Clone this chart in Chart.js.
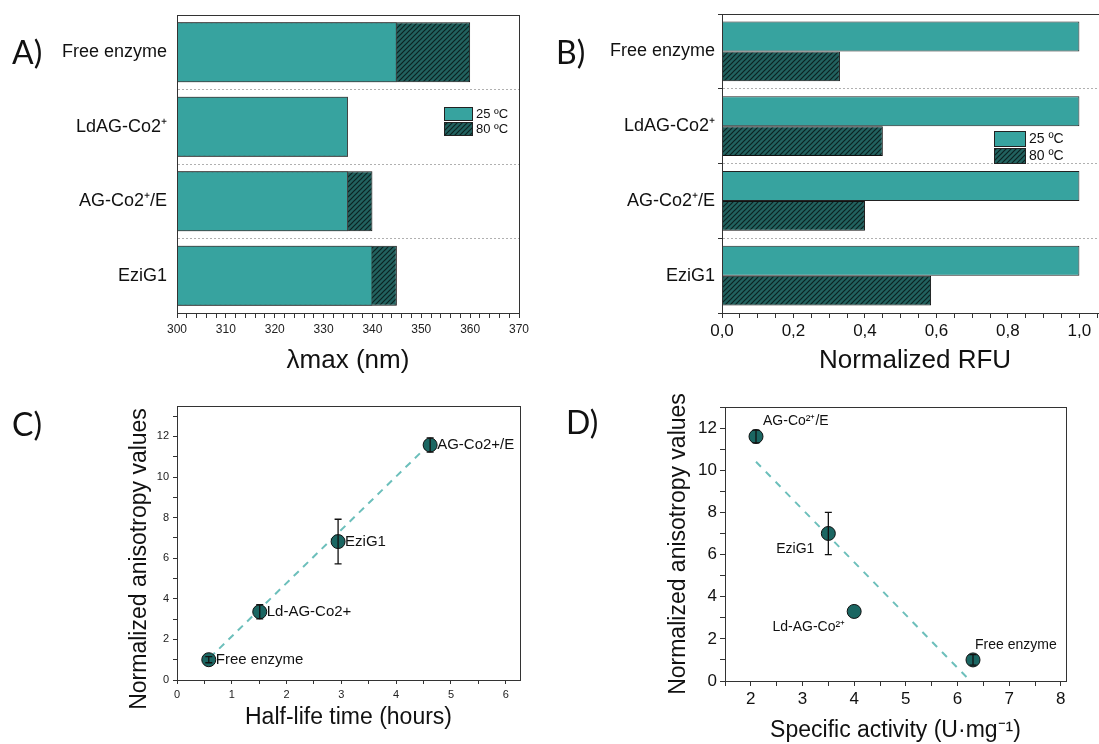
<!DOCTYPE html>
<html>
<head>
<meta charset="utf-8">
<script src="https://cdn.jsdelivr.net/npm/chart.js@4.4.1/dist/chart.umd.min.js"></script>
<style>
  html, body { margin: 0; padding: 0; background: #fff; overflow: hidden; }
  body { width: 1099px; height: 744px; position: relative; }
  canvas { position: absolute; }
  .tag { position: absolute; font-family: Lato, "Open Sans", sans-serif; font-size: 32px; line-height: 32px; color: #111; }
</style>
</head>
<body>
<canvas id="chartA" width="540" height="376" style="left:0;top:0"></canvas>
<canvas id="chartB" width="600" height="376" style="left:540px;top:0"></canvas>
<canvas id="chartC" width="540" height="374" style="left:0;top:370px"></canvas>
<canvas id="chartD" width="559" height="374" style="left:540px;top:370px"></canvas>
<div class="tag" style="left:12px;top:36px">A)</div>
<div class="tag" style="left:556px;top:36px">B)</div>
<div class="tag" style="left:12px;top:408px">C)</div>
<div class="tag" style="left:566px;top:406px">D)</div>
<script>
// panels A and B: emission maximum and normalized fluorescence
const samples = ['Free enzyme', 'LdAG-Co2⁺', 'AG-Co2⁺/E', 'EziG1'];
const lambda25 = [345, 335, 335, 340];
const lambda80 = [360, 335, 340, 345];
const rfu25 = [1, 1, 1, 1];
const rfu80 = [0.33, 0.45, 0.40, 0.585];
const lambdaTicks = [300, 310, 320, 330, 340, 350, 360, 370];
const rfuTicks = [0, 0.2, 0.4, 0.6, 0.8, 1.0];

// panel C: anisotropy vs half-life
const halfLifeNames = ['Free enzyme', 'Ld-AG-Co2+', 'EziG1', 'AG-Co2+/E'];
const halfLife = [0.58, 1.51, 2.94, 4.62];
const anisoC = [1.0, 3.36, 6.82, 11.58];
const anisoErrC = [0.15, 0.35, 1.1, 0.35];
const fitHalfLifeX = [0.6, 4.56];
const fitHalfLifeY = [1.1, 11.5];

// panel D: anisotropy vs specific activity
const activityNames = ['AG-Co²⁺/E', 'EziG1', 'Ld-AG-Co²⁺', 'Free enzyme'];
const activity = [2.1, 3.5, 4.0, 6.3];
const anisoD = [11.6, 7.0, 3.3, 1.0];
const anisoErrD = [0.3, 1.0, 0, 0.25];
const fitActivityX = [2.1, 6.25];
const fitActivityY = [10.4, 0];

const teal = '#37a39f';
const dotTeal = '#1b6662';
const fitTeal = '#6cbfbb';

Chart.defaults.font.family = "'Liberation Sans', Arial, sans-serif";
Chart.defaults.color = '#111';

function hatch(canvasId) {
    const tile = document.createElement('canvas');
    tile.width = 5; tile.height = 5;
    const g = tile.getContext('2d');
    g.fillStyle = '#22625f';
    g.fillRect(0, 0, 5, 5);
    g.strokeStyle = '#0b2322';
    g.lineWidth = 1.2;
    g.beginPath();
    g.moveTo(0, 5); g.lineTo(5, 0);
    g.moveTo(-1, 1); g.lineTo(1, -1);
    g.moveTo(4, 6); g.lineTo(6, 4);
    g.stroke();
    return document.getElementById(canvasId).getContext('2d').createPattern(tile, 'repeat');
}

// box around the plot area
const framePlugin = {
    id: 'frame',
    afterDraw(chart) {
        const { ctx, chartArea: a } = chart;
        const l = Math.round(a.left) + 0.5, t = Math.round(a.top) + 0.5;
        ctx.save();
        ctx.strokeStyle = '#333';
        ctx.lineWidth = 1;
        ctx.strokeRect(l, t, Math.round(a.right) - Math.round(a.left), Math.round(a.bottom) - Math.round(a.top));
        ctx.restore();
    }
};

// small legend inside the plot, built from the datasets
const boxLegendPlugin = {
    id: 'boxLegend',
    afterDraw(chart, args, opts) {
        const ctx = chart.ctx;
        ctx.save();
        ctx.font = opts.size + "px 'Liberation Sans', Arial, sans-serif";
        ctx.textBaseline = 'middle';
        ctx.textAlign = 'left';
        chart.data.datasets.forEach((ds, i) => {
            const y = opts.y + i * (opts.h + opts.gap);
            ctx.fillStyle = ds.backgroundColor;
            ctx.fillRect(opts.x, y, opts.w, opts.h);
            ctx.strokeStyle = '#222';
            ctx.lineWidth = 1;
            ctx.strokeRect(opts.x + 0.5, y + 0.5, opts.w, opts.h);
            ctx.fillStyle = '#111';
            ctx.fillText(ds.label, opts.x + opts.w + 4, y + opts.h / 2 + 1);
        });
        ctx.restore();
    }
};

const errorBarPlugin = {
    id: 'errorBars',
    afterDatasetsDraw(chart, args, opts) {
        const meta = chart.getDatasetMeta(0);
        const ys = chart.scales.y;
        const ctx = chart.ctx;
        ctx.save();
        ctx.strokeStyle = '#111';
        ctx.lineWidth = 1.3;
        meta.data.forEach((pt, i) => {
            if (!opts.errors[i]) return;
            const v = chart.data.datasets[0].data[i].y;
            const top = ys.getPixelForValue(v + opts.errors[i]);
            const bot = ys.getPixelForValue(v - opts.errors[i]);
            ctx.beginPath();
            ctx.moveTo(pt.x, top); ctx.lineTo(pt.x, bot);
            ctx.moveTo(pt.x - 3.5, top); ctx.lineTo(pt.x + 3.5, top);
            ctx.moveTo(pt.x - 3.5, bot); ctx.lineTo(pt.x + 3.5, bot);
            ctx.stroke();
        });
        ctx.restore();
    }
};

const pointLabelPlugin = {
    id: 'pointLabels',
    afterDatasetsDraw(chart, args, opts) {
        const meta = chart.getDatasetMeta(0);
        const ctx = chart.ctx;
        ctx.save();
        ctx.font = opts.size + "px 'Liberation Sans', Arial, sans-serif";
        ctx.fillStyle = '#111';
        ctx.textBaseline = 'middle';
        meta.data.forEach((pt, i) => {
            const p = opts.place[i];
            ctx.textAlign = p.align;
            ctx.fillText(opts.names[i], pt.x + p.dx, pt.y + p.dy);
        });
        ctx.restore();
    }
};

const tickGrid = { drawOnChartArea: false, drawTicks: true, tickLength: 5, tickColor: '#333' };
const axisTitle = (text, size, bottom) => ({ display: true, text: text, font: { size: size }, color: '#111',
                                             padding: { top: 0, bottom: bottom || 0 } });

// ---- A ----
const hatchA = hatch('chartA');
new Chart(document.getElementById('chartA'), {
    type: 'bar',
    data: {
        labels: samples,
        datasets: [
            { label: '25 ºC', data: lambda25, backgroundColor: teal, borderColor: '#444', borderWidth: 1,
              grouped: false, order: 1, barPercentage: 1, categoryPercentage: 0.805 },
            { label: '80 ºC', data: lambda80, backgroundColor: hatchA, borderColor: '#111', borderWidth: 1,
              grouped: false, order: 2, barPercentage: 1, categoryPercentage: 0.805 }
        ]
    },
    options: {
        indexAxis: 'y', responsive: false, animation: false,
        layout: { padding: { left: 0, right: 21, top: 15, bottom: 0 } },
        plugins: {
            legend: { display: false }, tooltip: { enabled: false },
            boxLegend: { x: 444, y: 107, w: 28, h: 13, gap: 2, size: 13 }
        },
        scales: {
            x: {
                min: 300, max: 370,
                ticks: { stepSize: 2, autoSkip: false, maxRotation: 0, padding: 4, font: { size: 12 }, color: '#222',
                         callback: v => lambdaTicks.includes(v) ? v : '' },
                grid: tickGrid,
                border: { color: '#333' },
                title: axisTitle('λmax (nm)', 26),
                afterFit: s => { s.height = 63; }
            },
            y: {
                ticks: { padding: 3, font: { size: 18 }, color: '#111' },
                grid: { drawTicks: true, tickLength: 7, tickColor: 'rgba(0,0,0,0)', color: '#b0b0b0', lineWidth: 1 },
                border: { color: '#333', dash: [2, 2] },
                afterFit: s => { s.width = 177; }
            }
        }
    },
    plugins: [framePlugin, boxLegendPlugin]
});

// ---- B ----
const hatchB = hatch('chartB');
new Chart(document.getElementById('chartB'), {
    type: 'bar',
    data: {
        labels: samples,
        datasets: [
            { label: '25 ºC', data: rfu25, backgroundColor: teal, borderColor: '#222', borderWidth: 1,
              barPercentage: 1, categoryPercentage: 0.8 },
            { label: '80 ºC', data: rfu80, backgroundColor: hatchB, borderColor: '#111', borderWidth: 1,
              barPercentage: 1, categoryPercentage: 0.8 }
        ]
    },
    options: {
        indexAxis: 'y', responsive: false, animation: false,
        layout: { padding: { left: 0, right: 32, top: 14, bottom: 0 } },
        plugins: {
            legend: { display: false }, tooltip: { enabled: false },
            boxLegend: { x: 454, y: 131, w: 31, h: 15, gap: 2, size: 14 }
        },
        scales: {
            x: {
                min: 0, max: 1.08,
                ticks: { stepSize: 0.05, includeBounds: false, autoSkip: false, maxRotation: 0, padding: 3,
                         font: { size: 17 }, color: '#111',
                         callback: v => rfuTicks.some(t => Math.abs(t - v) < 1e-6) ? v.toFixed(1).replace('.', ',') : '' },
                grid: tickGrid,
                border: { color: '#333' },
                title: axisTitle('Normalized RFU', 26),
                afterFit: s => { s.height = 63; }
            },
            y: {
                ticks: { padding: 3, font: { size: 18 }, color: '#111' },
                grid: { drawTicks: true, tickLength: 4, tickColor: '#333', color: '#b0b0b0', lineWidth: 1 },
                border: { color: '#333', dash: [2, 2] },
                afterFit: s => { s.width = 182; }
            }
        }
    },
    plugins: [framePlugin, boxLegendPlugin]
});

// ---- C ----
new Chart(document.getElementById('chartC'), {
    type: 'scatter',
    data: {
        datasets: [
            { data: halfLife.map((x, i) => ({ x: x, y: anisoC[i] })), pointRadius: 7, pointHoverRadius: 7,
              pointBackgroundColor: dotTeal, pointBorderColor: '#111', pointBorderWidth: 1, order: 1 },
            { type: 'line', data: fitHalfLifeX.map((x, i) => ({ x: x, y: fitHalfLifeY[i] })),
              borderColor: fitTeal, borderWidth: 2, borderDash: [7, 6], pointRadius: 0, fill: false, order: 2 }
        ]
    },
    options: {
        responsive: false, animation: false,
        layout: { padding: { left: 126, right: 20, top: 36, bottom: 0 } },
        plugins: {
            legend: { display: false }, tooltip: { enabled: false },
            errorBars: { errors: anisoErrC },
            pointLabels: { names: halfLifeNames, size: 15, place: [
                { dx: 7, dy: 0, align: 'left' }, { dx: 7, dy: 0, align: 'left' },
                { dx: 7, dy: 0, align: 'left' }, { dx: 7, dy: 0, align: 'left' }] }
        },
        scales: {
            x: {
                type: 'linear', min: 0, max: 6.26,
                ticks: { stepSize: 0.5, includeBounds: false, autoSkip: false, maxRotation: 0, padding: 4,
                         font: { size: 11 }, color: '#222', callback: v => Number.isInteger(v) ? v : '' },
                grid: { drawOnChartArea: false, tickLength: 4, tickColor: '#333' },
                border: { color: '#333' },
                title: axisTitle('Half-life time (hours)', 23, 13),
                afterFit: s => { s.height = 64; }
            },
            y: {
                min: 0, max: 13.5,
                ticks: { stepSize: 1, includeBounds: false, autoSkip: false, padding: 4,
                         font: { size: 11 }, color: '#222', callback: v => v % 2 === 0 ? v : '' },
                grid: { drawOnChartArea: false, tickLength: 4, tickColor: '#333' },
                border: { color: '#333' },
                // trailing spaces push the rotated title a little lower, as in the original
                title: axisTitle('Normalized anisotropy values     ', 23),
                afterFit: s => { s.width = 51; }
            }
        }
    },
    plugins: [framePlugin, errorBarPlugin, pointLabelPlugin]
});

// ---- D ----
new Chart(document.getElementById('chartD'), {
    type: 'scatter',
    data: {
        datasets: [
            { data: activity.map((x, i) => ({ x: x, y: anisoD[i] })), pointRadius: 7, pointHoverRadius: 7,
              pointBackgroundColor: dotTeal, pointBorderColor: '#111', pointBorderWidth: 1, order: 1 },
            { type: 'line', data: fitActivityX.map((x, i) => ({ x: x, y: fitActivityY[i] })),
              borderColor: fitTeal, borderWidth: 2, borderDash: [7, 7], pointRadius: 0, fill: false, order: 2 }
        ]
    },
    options: {
        responsive: false, animation: false,
        layout: { padding: { left: 125, right: 33, top: 37, bottom: 0 } },
        plugins: {
            legend: { display: false }, tooltip: { enabled: false },
            errorBars: { errors: anisoErrD },
            pointLabels: { names: activityNames, size: 14, place: [
                { dx: 7, dy: -15, align: 'left' }, { dx: -14, dy: 16, align: 'right' },
                { dx: -9, dy: 16, align: 'right' }, { dx: 2, dy: -15, align: 'left' }] }
        },
        scales: {
            x: {
                type: 'linear', min: 1.5, max: 8.1,
                ticks: { stepSize: 0.5, includeBounds: false, autoSkip: false, maxRotation: 0, padding: 3,
                         font: { size: 17 }, color: '#111', callback: v => Number.isInteger(v) ? v : '' },
                grid: { drawOnChartArea: false, tickLength: 5, tickColor: '#333' },
                border: { color: '#333' },
                title: axisTitle('Specific activity (U·mg⁻¹)', 23),
                afterFit: s => { s.height = 63; }
            },
            y: {
                min: 0, max: 13,
                ticks: { stepSize: 1, includeBounds: false, autoSkip: false, padding: 3,
                         font: { size: 17 }, color: '#111', callback: v => v % 2 === 0 ? v : '' },
                grid: { drawOnChartArea: false, tickLength: 5, tickColor: '#333' },
                border: { color: '#333' },
                title: axisTitle('Normalized anisotropy values', 23),
                afterFit: s => { s.width = 60; }
            }
        }
    },
    plugins: [framePlugin, errorBarPlugin, pointLabelPlugin]
});
</script>
</body>
</html>
